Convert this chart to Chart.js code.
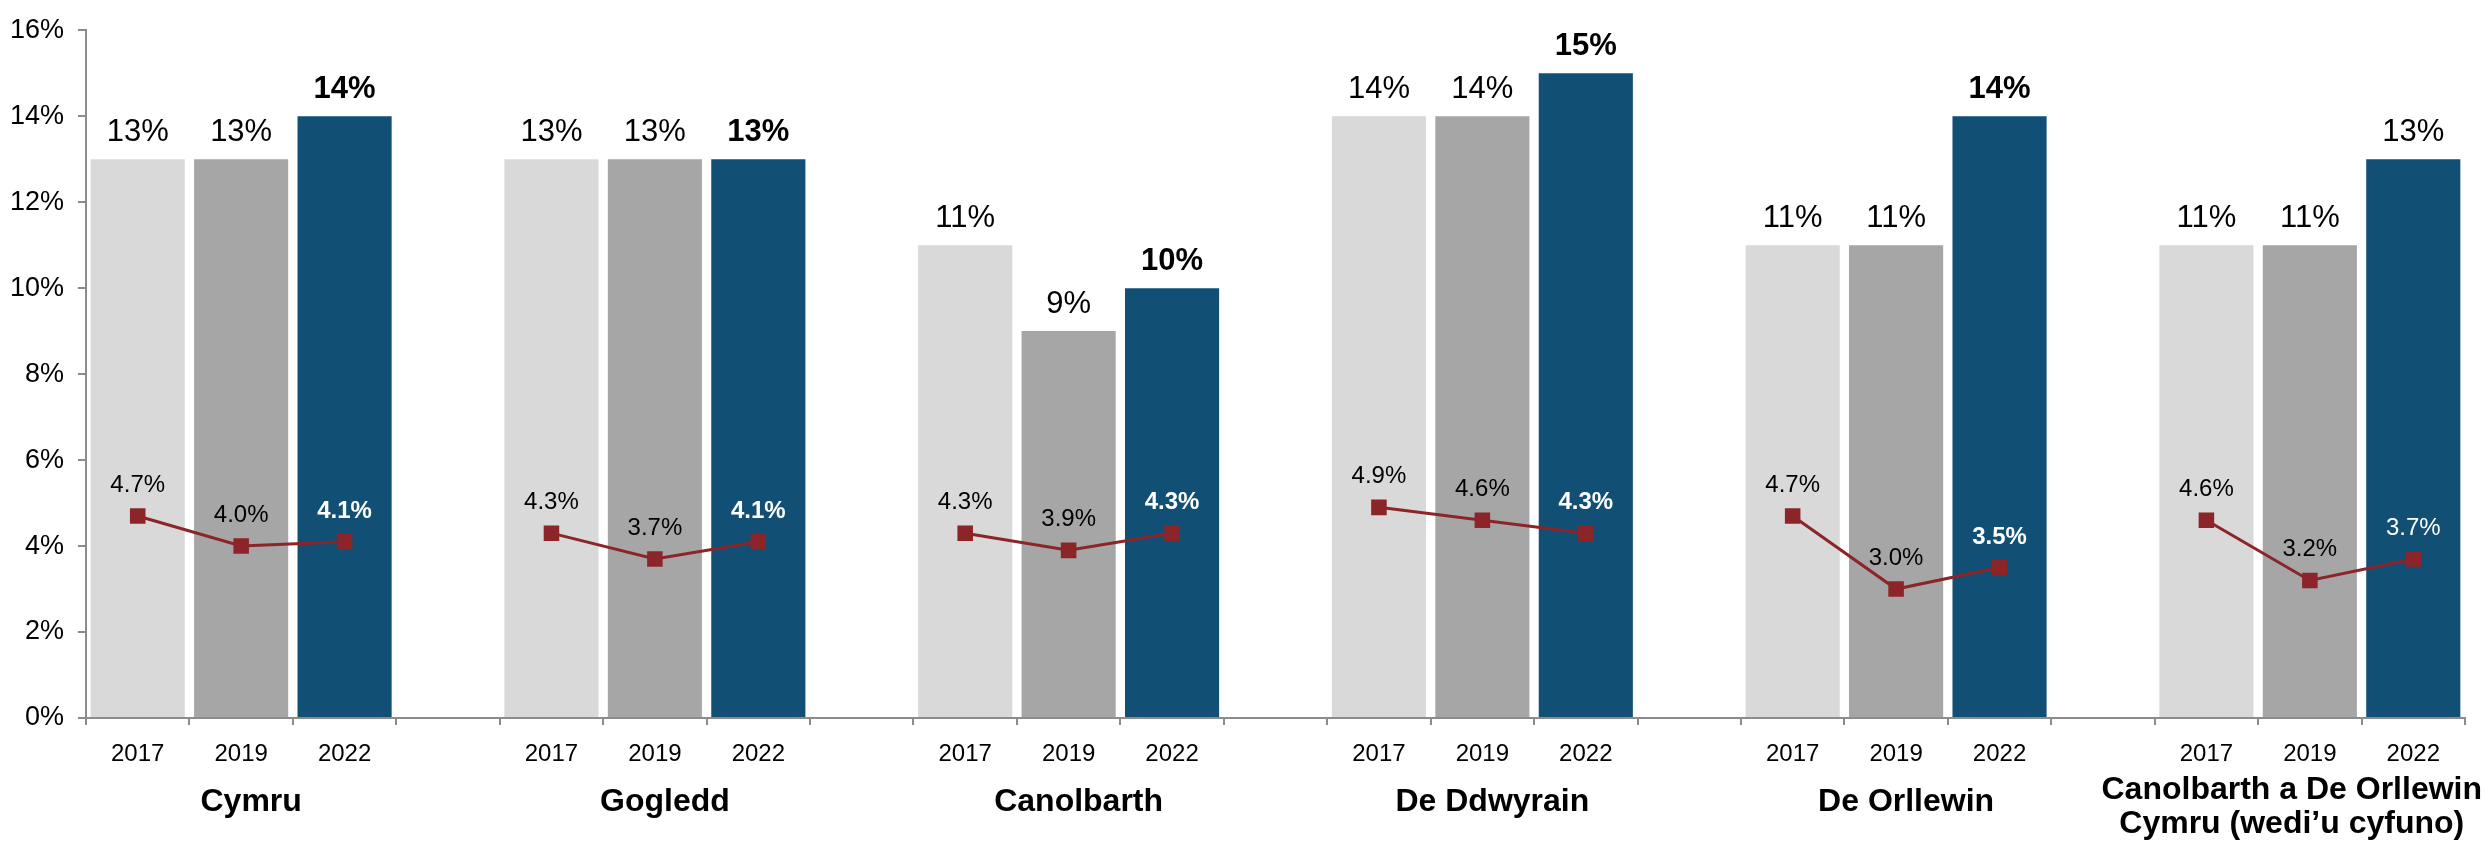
<!DOCTYPE html>
<html>
<head>
<meta charset="utf-8">
<script src="https://cdn.jsdelivr.net/npm/chart.js@4/dist/chart.umd.min.js"></script>
<style>
  body { margin: 0; background: #fff; }
</style>
</head>
<body>
<canvas id="myChart" width="2486" height="844"></canvas>
<script>
(function () {
  'use strict';

  // regions and years
  const categories = [
    'Cymru',
    'Gogledd',
    'Canolbarth',
    'De Ddwyrain',
    'De Orllewin',
    ['Canolbarth a De Orllewin', 'Cymru (wedi\u2019u cyfuno)'],
  ];
  const years = ['2017', '2019', '2022'];

  // bar values (%)
  const bar2017 = [13, 13, 11, 14, 11, 11];
  const bar2019 = [13, 13, 9, 14, 11, 11];
  const bar2022 = [14, 13, 10, 15, 14, 13];

  // line values (%)
  const line2017 = [4.7, 4.3, 4.3, 4.9, 4.7, 4.6];
  const line2019 = [4.0, 3.7, 3.9, 4.6, 3.0, 3.2];
  const line2022 = [4.1, 4.1, 4.3, 4.3, 3.5, 3.7];

  // y axis ticks
  const yTicks = [0, 2, 4, 6, 8, 10, 12, 14, 16];

  // which 2022 labels are bold
  const bold2022 = [true, true, true, true, true, false];

  const barColors = ['#d9d9d9', '#a6a6a6', '#114f74'];
  const lineColor = '#8c2529';
  const axisColor = '#8c8c8c';

  // one slot per bar, one blank slot between groups
  const labels = [];
  const slotInfo = [];
  categories.forEach((g, i) => {
    if (i > 0) {
      labels.push('');
      slotInfo.push(null);
    }
    years.forEach((y, k) => {
      labels.push(y);
      slotInfo.push({ group: i, year: k });
    });
  });

  const barSeries = [bar2017, bar2019, bar2022];
  const lineSeries = [line2017, line2019, line2022];

  const barDatasets = barSeries.map((arr, k) => ({
    type: 'bar',
    label: years[k],
    data: slotInfo.map((s) => (s && s.year === k ? arr[s.group] : null)),
    backgroundColor: barColors[k],
    grouped: false,
    barPercentage: 0.91,
    categoryPercentage: 1,
    order: 1,
  }));

  const lineDataset = {
    type: 'line',
    label: 'line',
    data: slotInfo.map((s) => (s ? lineSeries[s.year][s.group] : null)),
    borderColor: lineColor,
    backgroundColor: lineColor,
    borderWidth: 3,
    pointStyle: 'rect',
    pointRadius: 11,
    pointBackgroundColor: lineColor,
    pointBorderWidth: 0,
    spanGaps: false,
    order: 0,
  };

  const fmt = (v, dec) => v.toFixed(dec) + '%';

  const valueLabels = {
    id: 'valueLabels',
    afterDatasetsDraw(chart) {
      const ctx = chart.ctx;
      ctx.save();
      ctx.textAlign = 'center';
      ctx.textBaseline = 'alphabetic';
      chart.data.datasets.forEach((ds, di) => {
        const meta = chart.getDatasetMeta(di);
        meta.data.forEach((el, idx) => {
          const v = ds.data[idx];
          const s = slotInfo[idx];
          if (v === null || !s) return;
          const isBold = s.year === 2 && bold2022[s.group];
          if (ds.type === 'bar') {
            ctx.font = (isBold ? 'bold ' : '') + '31px "Liberation Sans", Arial, sans-serif';
            ctx.fillStyle = '#000';
            ctx.fillText(fmt(v, 0), el.x, el.y - 18);
          } else {
            ctx.font = (isBold ? 'bold ' : '') + '24px "Liberation Sans", Arial, sans-serif';
            ctx.fillStyle = s.year === 2 ? '#fff' : '#000';
            ctx.fillText(fmt(v, 1), el.x, el.y - 24);
          }
        });
      });
      ctx.restore();
    },
  };

  const groupLabels = {
    id: 'groupLabels',
    afterDraw(chart) {
      const ctx = chart.ctx;
      const xs = chart.scales.x;
      ctx.save();
      ctx.font = 'bold 32px "Liberation Sans", Arial, sans-serif';
      ctx.fillStyle = '#000';
      ctx.textAlign = 'center';
      ctx.textBaseline = 'middle';
      categories.forEach((g, i) => {
        const first = xs.getPixelForValue(i * 4);
        const last = xs.getPixelForValue(i * 4 + 2);
        let cx = (first + last) / 2 + 10;
        const lines = Array.isArray(g) ? g : [g];
        const half = Math.max(...lines.map((l) => ctx.measureText(l).width)) / 2;
        cx = Math.min(cx, chart.width - half - 4);
        if (lines.length === 1) {
          ctx.fillText(lines[0], cx, 802);
        } else {
          lines.forEach((l, j) => ctx.fillText(l, cx, 790 + j * 34));
        }
      });
      ctx.restore();
    },
  };

  Chart.defaults.font.family = '"Liberation Sans", Arial, sans-serif';
  Chart.defaults.color = '#000';

  const ctx = document.getElementById('myChart').getContext('2d');
  new Chart(ctx, {
    data: {
      labels: labels,
      datasets: [...barDatasets, lineDataset],
    },
    options: {
      responsive: false,
      animation: false,
      devicePixelRatio: 1,
      layout: { padding: { top: 12, right: 21, left: 0, bottom: 0 } },
      plugins: {
        legend: { display: false },
        tooltip: { enabled: false },
      },
      scales: {
        x: {
          type: 'category',
          offset: true,
          grid: {
            offset: true,
            drawOnChartArea: false,
            tickLength: 7,
            color: axisColor,
            lineWidth: 2,
          },
          border: { color: axisColor, width: 2 },
          ticks: {
            font: { size: 24 },
            color: '#000',
            padding: 15,
            maxRotation: 0,
            autoSkip: false,
          },
          afterFit(scale) {
            scale.height = 126;
          },
        },
        y: {
          min: yTicks[0],
          max: yTicks[yTicks.length - 1],
          afterBuildTicks(scale) {
            scale.ticks = yTicks.map((v) => ({ value: v }));
          },
          grid: {
            drawOnChartArea: false,
            tickLength: 8,
            color: axisColor,
            lineWidth: 2,
          },
          border: { color: axisColor, width: 2 },
          ticks: {
            font: { size: 27 },
            color: '#000',
            padding: 14,
            callback: (v) => v + '%',
          },
          afterFit(scale) {
            scale.width = 86;
          },
        },
      },
    },
    plugins: [valueLabels, groupLabels],
  });
})();
</script>
</body>
</html>
